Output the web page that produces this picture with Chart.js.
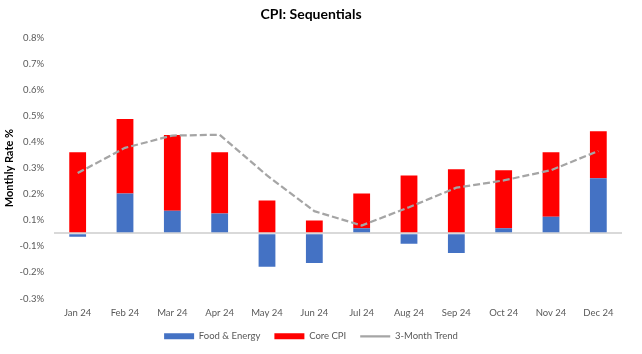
<!DOCTYPE html>
<html>
<head>
<meta charset="utf-8">
<script src="https://cdn.jsdelivr.net/npm/chart.js@4"></script>
<style>
html, body { margin: 0; padding: 0; background: #fff; }
#wrap { width: 642px; height: 354px; }
</style>
</head>
<body>
<div id="wrap"><canvas id="graficoCpi"></canvas></div>
<script>
var meses = ['Jan 24', 'Feb 24', 'Mar 24', 'Apr 24', 'May 24', 'Jun 24', 'Jul 24', 'Aug 24', 'Sep 24', 'Oct 24', 'Nov 24', 'Dec 24']
var foodEnergy = [-0.013, 0.153, 0.087, 0.076, -0.128, -0.114, 0.019, -0.040, -0.075, 0.019, 0.064, 0.211]
var coreCpi = [0.311, 0.286, 0.290, 0.235, 0.126, 0.049, 0.134, 0.222, 0.246, 0.223, 0.247, 0.181]
var trend3m = [0.231, 0.328, 0.375, 0.378, 0.222, 0.085, 0.030, 0.100, 0.175, 0.203, 0.242, 0.316]

// Excel axis: min -0.25, step 0.1, labels rounded to 1 decimal
var tickValores = [-0.25, -0.15, -0.05, 0, 0.05, 0.15, 0.25, 0.35, 0.45, 0.55, 0.65, 0.75]
var tickTextos = ['-0.3%', '-0.2%', '-0.1%', '', '0.1%', '0.2%', '0.3%', '0.4%', '0.5%', '0.6%', '0.7%', '0.8%']

// Lato ~ Calibri (Carlito is built on it)
Chart.defaults.font.family = "Lato, 'Liberation Sans', sans-serif"

var ctx = document.getElementById('graficoCpi').getContext('2d')

var chart = new Chart(ctx, {
    type: 'bar',
    data: {
        labels: meses,
        datasets: [{
            label: 'Food & Energy',
            data: foodEnergy,
            backgroundColor: '#4472C4',
            borderWidth: 0,
            pointStyle: 'rect',
            stack: 'cpi',
            order: 1,
            categoryPercentage: 1,
            barPercentage: 0.355
        }, {
            label: 'Core CPI',
            data: coreCpi,
            backgroundColor: '#FF0000',
            borderWidth: 0,
            pointStyle: 'rect',
            stack: 'cpi',
            order: 1,
            categoryPercentage: 1,
            barPercentage: 0.355
        }, {
            type: 'line',
            label: '3-Month Trend',
            data: trend3m,
            borderColor: '#A5A5A5',
            backgroundColor: '#A5A5A5',
            borderWidth: 2.25,
            borderDash: [7, 3],
            pointRadius: 0,
            pointStyle: 'line',
            tension: 0,
            fill: false,
            stack: 'trend',
            order: 0
        }]
    },
    options: {
        responsive: true,
        maintainAspectRatio: false,
        animation: false,
        layout: { padding: { left: 0, right: 20, top: 0, bottom: 3 } },
        plugins: {
            tooltip: { enabled: false },
            title: {
                display: true,
                text: 'CPI: Sequentials',
                color: '#000',
                font: { size: 14, weight: 'bold' },
                padding: { top: 6, bottom: 15 }
            },
            legend: {
                position: 'bottom',
                labels: {
                    usePointStyle: true,
                    pointStyleWidth: 30,
                    boxHeight: 6,
                    color: '#595959',
                    font: { size: 9.5 },
                    padding: 14,
                    sort: function(a, b){ return a.datasetIndex - b.datasetIndex }
                }
            }
        },
        scales: {
            x: {
                stacked: true,
                grid: { display: false, drawTicks: false },
                border: { display: false },
                afterFit: function(scale){
                    scale.height = 19
                },
                ticks: {
                    color: '#595959',
                    font: { size: 9.5 },
                    maxRotation: 0,
                    autoSkip: false,
                    padding: 9
                }
            },
            y: {
                stacked: true,
                min: -0.25,
                max: 0.75,
                z: 1,
                afterBuildTicks: function(scale){
                    scale.ticks = tickValores.map(function(v){ return { value: v } })
                },
                afterFit: function(scale){
                    scale.width = 54
                },
                grid: {
                    drawTicks: false,
                    lineWidth: 2,
                    color: function(c){
                        return c.tick && c.tick.value === 0 ? '#D9D9D9' : 'rgba(0,0,0,0)'
                    }
                },
                border: { display: false },
                ticks: {
                    color: '#595959',
                    font: { size: 9.5 },
                    padding: 10,
                    callback: function(value, index){
                        return tickTextos[index]
                    }
                },
                title: {
                    display: true,
                    text: 'Monthly Rate %',
                    color: '#000',
                    font: { size: 11, weight: 'bold' },
                    padding: { top: 3, bottom: 0 }
                }
            }
        }
    }
})
</script>
</body>
</html>
